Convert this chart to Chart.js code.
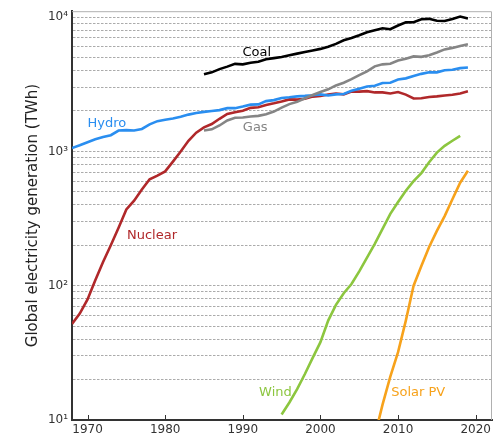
<!DOCTYPE html>
<html>
<head>
<meta charset="utf-8">
<script src="https://cdn.jsdelivr.net/npm/chart.js@4/dist/chart.umd.min.js"></script>
<style>
  html, body { margin: 0; padding: 0; background: #fff; }
</style>
</head>
<body>
<canvas id="chart" width="495" height="436"></canvas>
<script>
// series data, TWh per year
const hydroStart = 1968;
const hydro = [1060, 1110, 1170, 1230, 1280, 1320, 1430, 1440, 1430, 1470,
  1590, 1680, 1720, 1760, 1810, 1880, 1930, 1970, 2000, 2030,
  2100, 2100, 2160, 2230, 2240, 2370, 2410, 2500, 2530, 2570,
  2590, 2620, 2660, 2610, 2660, 2680, 2830, 2930, 3040, 3080,
  3230, 3250, 3430, 3500, 3650, 3780, 3880, 3880, 4020, 4060,
  4170, 4220];

const nuclearStart = 1968;
const nuclear = [52, 62, 79, 110, 150, 200, 270, 370, 430, 520,
  620, 660, 710, 840, 1000, 1200, 1380, 1510, 1600, 1750,
  1900, 1960, 2010, 2110, 2130, 2220, 2280, 2350, 2440, 2430,
  2470, 2560, 2590, 2650, 2700, 2660, 2790, 2790, 2810, 2750,
  2750, 2700, 2770, 2650, 2480, 2490, 2540, 2570, 2610, 2640,
  2700, 2800];

const coalStart = 1985;
const coal = [3750, 3880, 4100, 4280, 4490, 4450, 4570, 4650, 4850, 4950,
  5050, 5200, 5350, 5500, 5650, 5800, 6020, 6320, 6720, 6990,
  7330, 7720, 8000, 8270, 8120, 8660, 9140, 9170, 9640, 9710,
  9400, 9350, 9700, 10100, 9780];

const gasStart = 1985;
const gas = [1430, 1460, 1560, 1700, 1780, 1790, 1820, 1840, 1890, 1980,
  2120, 2250, 2340, 2490, 2630, 2770, 2900, 3100, 3250, 3450,
  3700, 3950, 4300, 4450, 4500, 4750, 4900, 5100, 5060, 5200,
  5450, 5750, 5900, 6100, 6280];

const windStart = 1995;
const wind = [11, 13.5, 17, 22, 29, 38, 55, 72, 88, 103,
  128, 162, 205, 265, 343, 420, 510, 600, 690, 830,
  980, 1100, 1200, 1306];

const solarStart = 2007;
const solar = [7.6, 13, 21, 32, 55, 100, 140, 194, 256, 330, 440, 585, 718];

const xTicks = [1970, 1980, 1990, 2000, 2010, 2020];
const superDigits = { 1: "\u00b9", 2: "\u00b2", 3: "\u00b3", 4: "\u2074" };

function toPoints(start, values) {
  return values.map((v, i) => ({ x: start + i, y: v }));
}

const series = [
  { name: "Coal", start: coalStart, values: coal, color: "#000000", at: [1991.8, 5400] },
  { name: "Gas", start: gasStart, values: gas, color: "#858585", at: [1991.6, 1500] },
  { name: "Hydro", start: hydroStart, values: hydro, color: "#2a8ef0", at: [1972.5, 1600] },
  { name: "Nuclear", start: nuclearStart, values: nuclear, color: "#b0282a", at: [1978.3, 236] },
  { name: "Wind", start: windStart, values: wind, color: "#8cc63f", at: [1994.2, 16] },
  { name: "Solar PV", start: solarStart, values: solar, color: "#f7a21b", at: [2012.6, 16] },
];

const FONT = "'DejaVu Sans', sans-serif";

// frame, inward x ticks and inline series labels
const extras = {
  id: "extras",
  afterDraw(chart) {
    const ctx = chart.ctx;
    const a = chart.chartArea;
    const xs = chart.scales.x;
    const ys = chart.scales.y;
    ctx.save();
    ctx.strokeStyle = "#b0b0b0";
    ctx.lineWidth = 1;
    ctx.beginPath();
    ctx.moveTo(a.left, a.top + 0.5);
    ctx.lineTo(a.right - 0.5, a.top + 0.5);
    ctx.lineTo(a.right - 0.5, a.bottom);
    ctx.stroke();

    ctx.strokeStyle = "#333";
    ctx.beginPath();
    xTicks.forEach(t => {
      const px = Math.round(xs.getPixelForValue(t)) + 0.5;
      ctx.moveTo(px, a.bottom);
      ctx.lineTo(px, a.bottom - 5);
    });
    ctx.stroke();

    ctx.font = "13px " + FONT;
    ctx.textAlign = "center";
    ctx.textBaseline = "middle";
    series.forEach(s => {
      ctx.fillStyle = s.color;
      ctx.fillText(s.name, xs.getPixelForValue(s.at[0]), ys.getPixelForValue(s.at[1]));
    });
    ctx.restore();
  },
};

new Chart(document.getElementById("chart").getContext("2d"), {
  type: "line",
  data: {
    datasets: series.map(s => ({
      label: s.name,
      data: toPoints(s.start, s.values),
      borderColor: s.color,
      backgroundColor: s.color,
      borderWidth: 2.6,
      pointRadius: 0,
      tension: 0,
      fill: false,
    })),
  },
  options: {
    responsive: false,
    animation: false,
    devicePixelRatio: 1,
    layout: { padding: { left: 0, top: 10, right: 3, bottom: 0 } },
    plugins: { legend: { display: false }, tooltip: { enabled: false } },
    scales: {
      x: {
        type: "linear",
        min: 1968,
        max: 2022.1,
        grid: { display: false, drawTicks: false },
        border: { display: true, color: "#333", width: 2 },
        afterBuildTicks: scale => {
          scale.ticks = xTicks.map(v => ({ value: v }));
        },
        afterFit: scale => {
          scale.height = 16;
        },
        ticks: {
          autoSkip: false,
          maxRotation: 0,
          padding: 3,
          color: "#333",
          font: { family: FONT, size: 12 },
          callback: v => String(v),
        },
      },
      y: {
        type: "logarithmic",
        min: 10,
        max: 11070,
        grid: { color: "#ababab", lineWidth: 1, drawTicks: false },
        border: { display: true, color: "#333", width: 2, dash: [2.5, 1.5] },
        afterBuildTicks: scale => {
          const t = [];
          for (let e = 1; e <= 3; e++) {
            for (let m = 1; m <= 9; m++) t.push({ value: m * Math.pow(10, e) });
          }
          t.push({ value: 10000 });
          scale.ticks = t;
        },
        afterFit: scale => {
          scale.width = 72;
        },
        ticks: {
          autoSkip: false,
          padding: 4,
          color: "#333",
          font: { family: FONT, size: 12 },
          callback: v => {
            const e = Math.log10(v);
            if (Math.abs(e - Math.round(e)) < 1e-9) return "10" + superDigits[Math.round(e)];
            return "";
          },
        },
        title: {
          display: true,
          text: "Global electricity generation (TWh)",
          color: "#222",
          font: { family: FONT, size: 15 },
          padding: { top: 24, bottom: 0 },
        },
      },
    },
  },
  plugins: [extras],
});
</script>
</body>
</html>
